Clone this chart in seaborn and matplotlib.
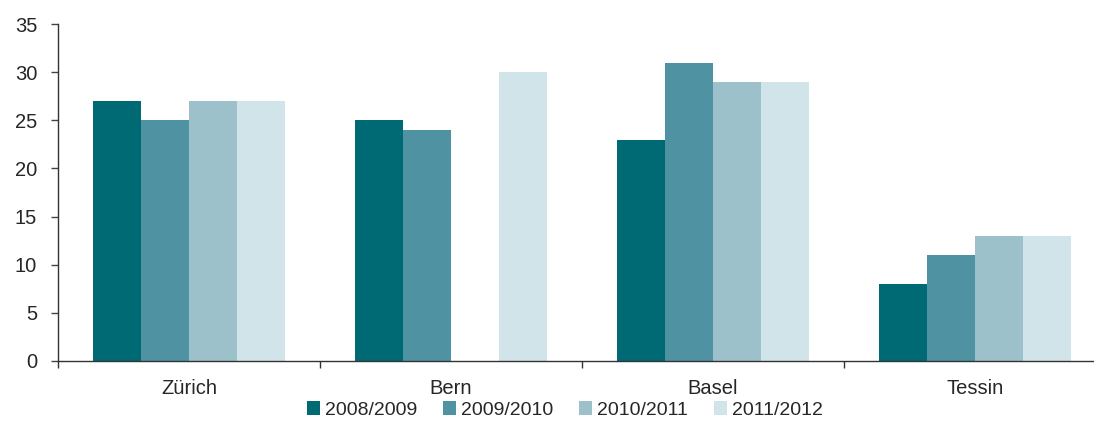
import numpy as np
import pandas as pd
import matplotlib
matplotlib.use("Agg")
import matplotlib.pyplot as plt
import seaborn as sns
from matplotlib.ticker import FixedLocator

categories = ["Zürich", "Bern", "Basel", "Tessin"]
series_names = ["2008/2009", "2009/2010", "2010/2011", "2011/2012"]
v_2008_2009 = [27, 25, 23, 8]
v_2009_2010 = [25, 24, 31, 11]
v_2010_2011 = [27, np.nan, 29, 13]
v_2011_2012 = [27, 30, 29, 13]
y_ticks = [0, 5, 10, 15, 20, 25, 30, 35]
colors = ["#006A74", "#4F93A3", "#9DC1CA", "#D0E4E9"]

rows = []
for name, vals in zip(series_names, [v_2008_2009, v_2009_2010, v_2010_2011, v_2011_2012]):
    for c, v in zip(categories, vals):
        rows.append({"Region": c, "Jahr": name, "Wert": v})
df = pd.DataFrame(rows)

sns.set_style("white")
plt.rcParams["font.family"] = ["Liberation Sans", "DejaVu Sans"]

fig = plt.figure(figsize=(10.94, 4.30), dpi=100)
ax = fig.add_axes([58/1094, 1-361/430, (1106-58)/1094, (361-24)/430])

sns.barplot(data=df, x="Region", y="Wert", hue="Jahr", order=categories,
            hue_order=series_names, palette=colors, width=0.73,
            linewidth=0, saturation=1, errorbar=None, ax=ax)

ax.set_xlim(-0.5, 3.5)
ax.set_ylim(0, 35)
ax.set_yticks(y_ticks)
ax.set_xlabel("")
ax.set_ylabel("")
for s in ["top", "right"]:
    ax.spines[s].set_visible(False)
for s in ["left", "bottom"]:
    ax.spines[s].set_color("#333333")
    ax.spines[s].set_linewidth(1.0)

ax.tick_params(axis="y", which="major", direction="out", length=5, width=1,
               color="#444444", labelsize=14.5, pad=10, left=True)
ax.tick_params(axis="x", which="major", length=0, labelsize=14.5, pad=13)
ax.xaxis.set_minor_locator(FixedLocator([-0.5, 0.5, 1.5, 2.5, 3.5]))
ax.tick_params(axis="x", which="minor", direction="out", length=5, width=1,
               color="#333333", bottom=True)

leg = ax.legend(loc="upper center", bbox_to_anchor=((565-58)/1048, -0.097), ncol=4,
                frameon=False, fontsize=14, handlelength=0.67, handleheight=0.67,
                handletextpad=0.26, columnspacing=1.34, borderaxespad=0)

fig.savefig("out.png", dpi=100)
